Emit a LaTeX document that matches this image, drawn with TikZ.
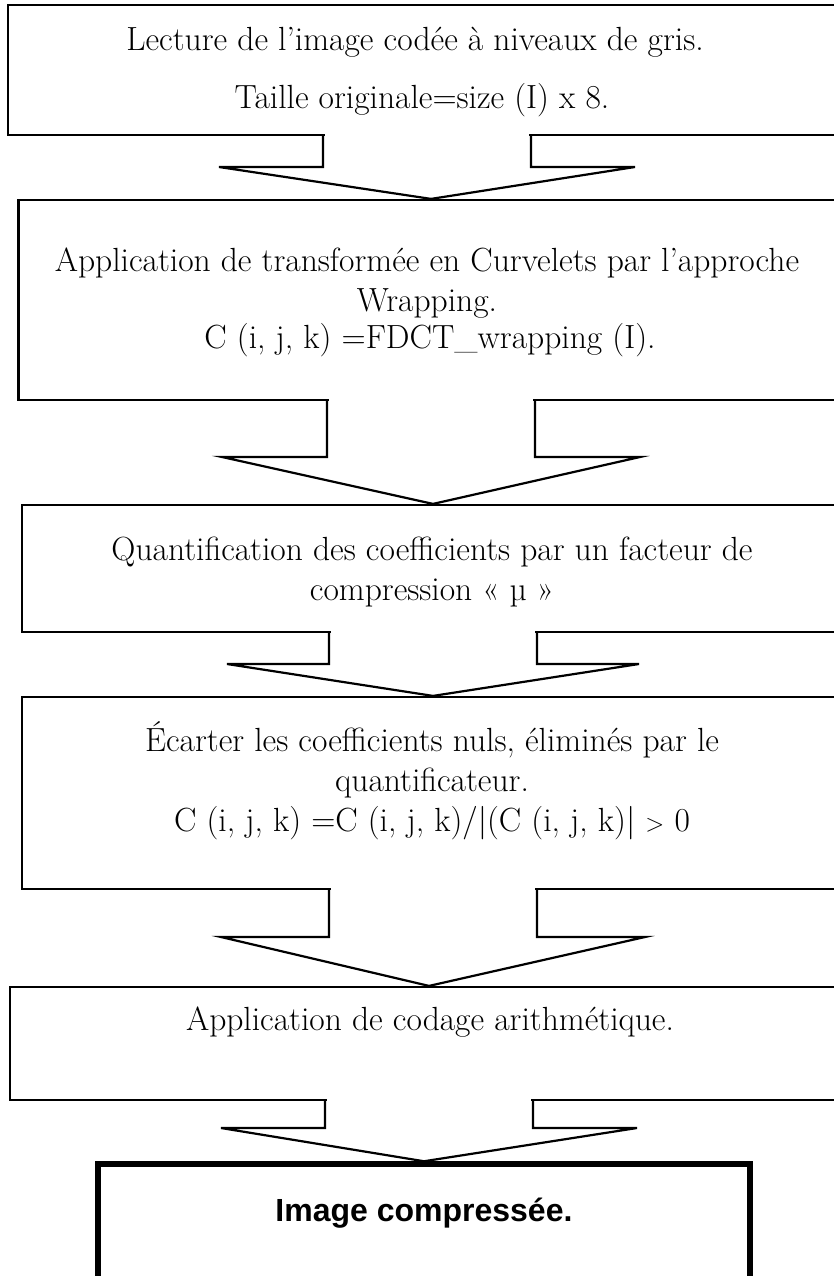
\documentclass[tikz,border=0pt]{standalone}
\usepackage{fontspec}
\newfontfamily\arialfont{Liberation Sans}

\begin{document}
\begin{tikzpicture}[x=1pt,y=-1pt,
		box/.style={draw,line width=2.2pt,inner sep=0pt},
		txt/.style={align=center,font=\fontsize{33.5}{40}\selectfont},
		blockarr/.style={line width=2.2pt,line join=miter},
		gap/.style={fill=white}]
			\useasboundingbox (0,0) rectangle (833,1276);
			\node[box,minimum width=838pt,minimum height=130pt] (b1) at (427,70) {};
			\node[box,minimum width=825pt,minimum height=200pt] (b2) at (431,300) {};
			\node[box,minimum width=822pt,minimum height=127pt] (b3) at (433,568.5) {};
			\node[box,minimum width=822pt,minimum height=192pt] (b4) at (433,793) {};
			\node[box,minimum width=838pt,minimum height=113pt] (b5) at (429,1043.5) {};
			\node[box,line width=5.5pt,minimum width=652pt,minimum height=240pt] (b6) at (424,1284) {};
			\node[txt] (t1) at (415,42) {Lecture de l'image codée à niveaux de gris.};
			\node[txt] (t2) at (422,100) {Taille originale=size (I) x 8.};
			\node[txt] (t3) at (427,283) {Application de transformée en Curvelets par l'approche\\Wrapping.};
			\node[txt] (t4) at (430,340) {C (i, j, k) =FDCT\_wrapping (I).};
			\node[txt] (t5) at (432,572) {Quantification des coefficients par un facteur de\\compression « µ »};
			\node[txt] (t6) at (432,760) {Écarter les coefficients nuls, éliminés par le\\quantificateur.};
			\node[txt] (t7) at (432,823) {C (i, j, k) =C (i, j, k)/|(C (i, j, k)| $>$ 0};
			\node[txt] (t8) at (430,1022) {Application de codage arithmétique.};
			\node[font=\arialfont\bfseries\fontsize{32}{36}\selectfont] (t9) at (424,1213) {Image compressée.};
			\coordinate (w1) at (427,167);
			\coordinate (w2) at (431,457);
			\coordinate (w3) at (433,664);
			\coordinate (w4) at (433,937);
			\coordinate (w5) at (429,1128);
			\fill[gap] ([xshift=-102pt,yshift=-2.5pt]b1.south) rectangle ([xshift=102pt,yshift=2.5pt]b1.south);
			\draw[blockarr] ([xshift=-104pt]b1.south) -- ([xshift=-104pt]w1) -- ([xshift=-208pt]w1) -- (b2.north) -- ([xshift=208pt]w1) -- ([xshift=104pt]w1) -- ([xshift=104pt]b1.south);
			\fill[gap] ([xshift=-102pt,yshift=-2.5pt]b2.south) rectangle ([xshift=102pt,yshift=2.5pt]b2.south);
			\draw[blockarr] ([xshift=-104pt]b2.south) -- ([xshift=-104pt]w2) -- ([xshift=-209pt]w2) -- (b3.north) -- ([xshift=209pt]w2) -- ([xshift=104pt]w2) -- ([xshift=104pt]b2.south);
			\fill[gap] ([xshift=-102pt,yshift=-2.5pt]b3.south) rectangle ([xshift=102pt,yshift=2.5pt]b3.south);
			\draw[blockarr] ([xshift=-104pt]b3.south) -- ([xshift=-104pt]w3) -- ([xshift=-206pt]w3) -- (b4.north) -- ([xshift=206pt]w3) -- ([xshift=104pt]w3) -- ([xshift=104pt]b3.south);
			\fill[gap] ([xshift=-102pt,yshift=-2.5pt]b4.south) rectangle ([xshift=102pt,yshift=2.5pt]b4.south);
			\draw[blockarr] ([xshift=-104pt]b4.south) -- ([xshift=-104pt]w4) -- ([xshift=-212pt]w4) -- (b5.north) -- ([xshift=212pt]w4) -- ([xshift=104pt]w4) -- ([xshift=104pt]b4.south);
			\fill[gap] ([xshift=-102pt,yshift=-2.5pt]b5.south) rectangle ([xshift=102pt,yshift=2.5pt]b5.south);
			\draw[blockarr] ([xshift=-104pt]b5.south) -- ([xshift=-104pt]w5) -- ([xshift=-208pt]w5) -- (b6.north) -- ([xshift=208pt]w5) -- ([xshift=104pt]w5) -- ([xshift=104pt]b5.south);
		\end{tikzpicture}
\end{document}
